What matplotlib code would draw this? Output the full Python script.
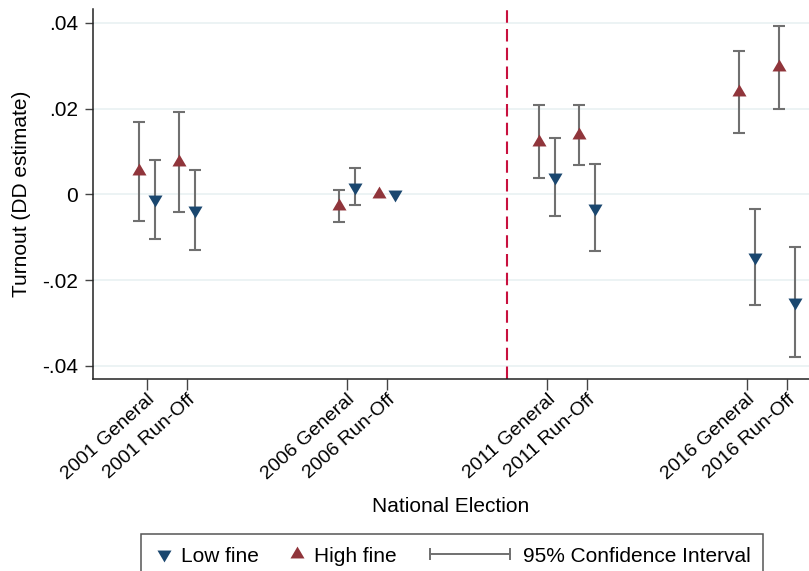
import matplotlib
matplotlib.use('Agg')
import matplotlib.pyplot as plt
from matplotlib.lines import Line2D
from matplotlib.legend_handler import HandlerLine2D

plt.rcParams['font.family'] = ['Liberation Sans', 'DejaVu Sans']

# elections (year, round)
years = [2001, 2001, 2006, 2006, 2011, 2011, 2016, 2016]
rounds = ['General', 'Run-Off', 'General', 'Run-Off',
          'General', 'Run-Off', 'General', 'Run-Off']
reform_year = 2010

# DD estimates with 95% CI (2006 Run-Off is the base, no CI)
high_est = [0.0054, 0.0075, -0.0027, 0.0, 0.0123, 0.0138, 0.0239, 0.0296]
high_lo = [-0.0062, -0.0041, -0.0065, 0.0, 0.0037, 0.0068, 0.0144, 0.0200]
high_hi = [0.0169, 0.0191, 0.0011, 0.0, 0.0208, 0.0208, 0.0334, 0.0392]
low_est = [-0.0012, -0.0037, 0.0018, 0.0, 0.0040, -0.0031, -0.0147, -0.0251]
low_lo = [-0.0103, -0.0130, -0.0025, 0.0, -0.0051, -0.0131, -0.0259, -0.0379]
low_hi = [0.0080, 0.0057, 0.0062, 0.0, 0.0132, 0.0070, -0.0035, -0.0122]

yticks = [-0.04, -0.02, 0, 0.02, 0.04]
ytick_labels = ['-.04', '-.02', '0', '.02', '.04']

navy = '#1a476f'
maroon = '#90353b'
ci_color = '#707070'

# triangles centred on their centroid (like Stata)
tri_up = [(-6.5, -3.67), (6.5, -3.67), (0, 7.33), (-6.5, -3.67)]
tri_down = [(x, -y) for x, y in tri_up]
ms = 11.4


class WideCI(HandlerLine2D):
    def legend_artist(self, legend, orig_handle, fontsize, handlebox):
        handlebox.width = 4.35 * fontsize
        return super().legend_artist(legend, orig_handle, fontsize, handlebox)


fig = plt.figure(figsize=(8.09, 5.71), dpi=100)
ax = fig.add_axes([0.115, 0.336, 0.885, 0.648])

xpos = [y - 2000 + (1 if r == 'Run-Off' else 0) for y, r in zip(years, rounds)]
labels = [f'{y} {r}' for y, r in zip(years, rounds)]
off = 0.2

eb = dict(fmt='none', ecolor=ci_color, elinewidth=1.5, capsize=4, capthick=1.5, zorder=2)
for est, lo, hi, d in [(high_est, high_lo, high_hi, -off), (low_est, low_lo, low_hi, off)]:
    keep = [i for i in range(len(est)) if hi[i] > lo[i]]
    ax.errorbar([xpos[i] + d for i in keep], [est[i] for i in keep],
                yerr=[[est[i] - lo[i] for i in keep], [hi[i] - est[i] for i in keep]], **eb)

ax.plot([x - off for x in xpos], high_est, ls='none', marker=tri_up, ms=ms,
        color=maroon, mec=maroon, mew=0, zorder=3)
ax.plot([x + off for x in xpos], low_est, ls='none', marker=tri_down, ms=ms,
        color=navy, mec=navy, mew=0, zorder=3)

ax.axvline(reform_year - 2000, color='#c8103e', ls=(0, (6, 3)), lw=1.5, zorder=1)

ax.set_xlim(-0.35, 17.55)
ax.set_ylim(-0.0431, 0.0432)
ax.set_yticks(yticks)
ax.set_yticklabels(ytick_labels)
ax.set_xticks(xpos)
ax.set_xticklabels(labels, rotation=42, ha='right', va='top', rotation_mode='anchor')

ax.grid(axis='y', color='#eaf2f3', lw=1.3)
ax.set_axisbelow(True)
for s in ['top', 'right']:
    ax.spines[s].set_visible(False)
for s in ['left', 'bottom']:
    ax.spines[s].set_color('#222222')
    ax.spines[s].set_linewidth(1.1)
ax.tick_params(axis='y', labelsize=15, length=6, width=1, color='#444444', pad=5)
ax.tick_params(axis='x', labelsize=14, length=8, width=1, color='#444444', pad=0.5)

ax.set_ylabel('Turnout (DD estimate)', fontsize=15)
ax.yaxis.set_label_coords(-0.1, 0.5)
ax.yaxis.label.set_va('center')
ax.set_xlabel('National Election', fontsize=15)
ax.xaxis.set_label_coords(0.5, -0.343)
ax.xaxis.label.set_va('center')

h_low = Line2D([], [], ls='none', marker=tri_down, ms=ms, mew=0, color=navy)
h_high = Line2D([], [], ls='none', marker=tri_up, ms=ms, mew=0, color=maroon)
h_ci = Line2D([], [], color=ci_color, lw=1.4, marker='|', ms=9, mew=1.4)
leg = fig.legend([h_low, h_high, h_ci], ['Low fine', 'High fine', '95% Confidence Interval'],
                 loc='upper center', bbox_to_anchor=(452 / 809, 1 - 534 / 571),
                 ncol=3, fontsize=15, frameon=True, fancybox=False, framealpha=1,
                 edgecolor='#555555', handlelength=0.95, handletextpad=0.35,
                 columnspacing=1.35, borderpad=0.6, borderaxespad=0,
                 handler_map={h_ci: WideCI(numpoints=2, marker_pad=0.25)})
leg.get_frame().set_linewidth(1.1)

fig.savefig('out.png', dpi=100)
